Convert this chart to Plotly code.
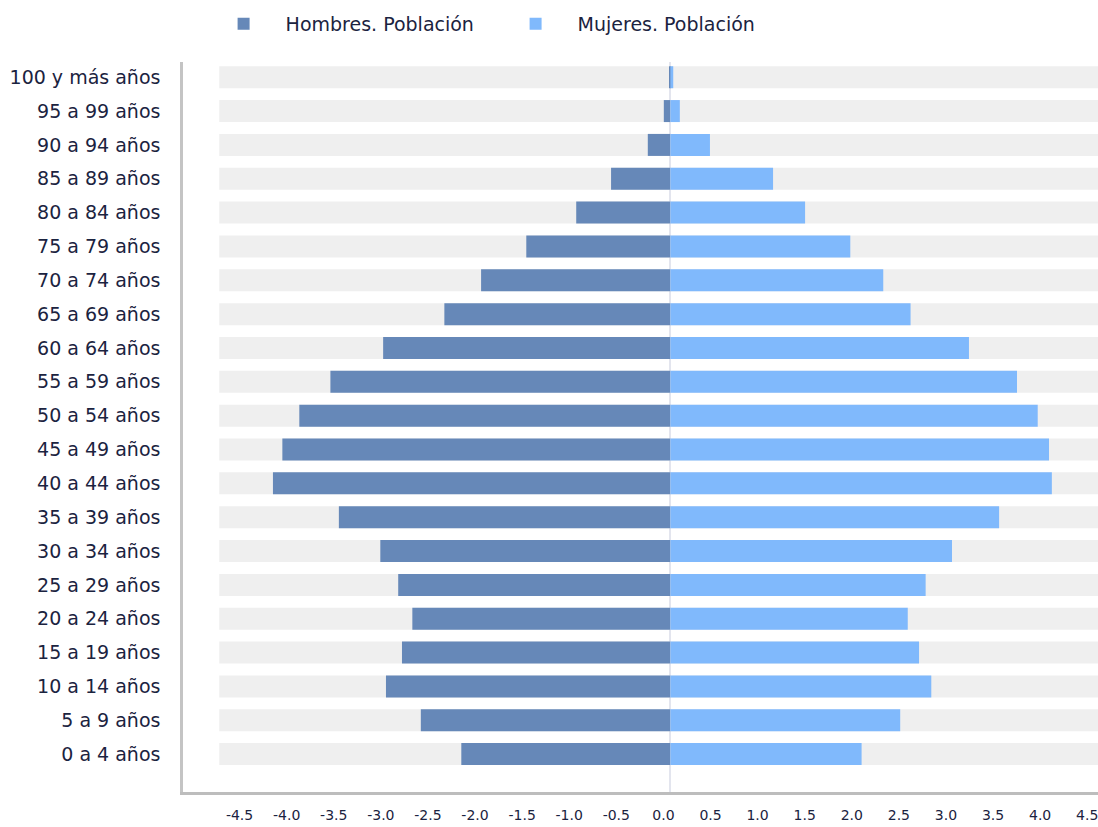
import plotly.graph_objects as go

# Age groups, bottom to top
grupos = ["0 a 4 años", "5 a 9 años", "10 a 14 años", "15 a 19 años", "20 a 24 años",
          "25 a 29 años", "30 a 34 años", "35 a 39 años", "40 a 44 años", "45 a 49 años",
          "50 a 54 años", "55 a 59 años", "60 a 64 años", "65 a 69 años", "70 a 74 años",
          "75 a 79 años", "80 a 84 años", "85 a 89 años", "90 a 94 años", "95 a 99 años",
          "100 y más años"]

# Population share (%)
hombres = [2.22, 2.65, 3.02, 2.85, 2.74, 2.89, 3.08, 3.52, 4.22, 4.12,
           3.94, 3.61, 3.05, 2.40, 2.01, 1.53, 1.00, 0.63, 0.24, 0.07, 0.01]
mujeres = [2.03, 2.44, 2.77, 2.64, 2.52, 2.71, 2.99, 3.49, 4.05, 4.02,
           3.90, 3.68, 3.17, 2.55, 2.26, 1.91, 1.43, 1.09, 0.42, 0.10, 0.03]

# Background band extent
fondo_izq = -4.79
fondo_der = 4.65

tick_vals = [-4.5, -4.0, -3.5, -3.0, -2.5, -2.0, -1.5, -1.0, -0.5, 0.0,
             0.5, 1.0, 1.5, 2.0, 2.5, 3.0, 3.5, 4.0, 4.5]
tick_text = [f"{v:.1f}" for v in tick_vals]

C_H = "#6688B8"
C_M = "#80B9FC"
C_BG = "#EFEFEF"
TXT = "#1B2340"
FONT = "DejaVu Sans"

fig = go.Figure()
fig.add_trace(go.Bar(y=grupos, x=[fondo_der - fondo_izq] * len(grupos),
                     base=[fondo_izq] * len(grupos), orientation="h",
                     marker=dict(color=C_BG, line=dict(width=0)), width=0.65,
                     showlegend=False, hoverinfo="skip"))
fig.add_trace(go.Bar(y=grupos, x=[-v for v in hombres], orientation="h",
                     name="Hombres. Población", marker=dict(color=C_H, line=dict(width=0)),
                     width=0.65, customdata=hombres,
                     hovertemplate="%{y}: %{customdata}<extra>Hombres</extra>"))
fig.add_trace(go.Bar(y=grupos, x=mujeres, orientation="h",
                     name="Mujeres. Población", marker=dict(color=C_M, line=dict(width=0)),
                     width=0.65,
                     hovertemplate="%{y}: %{x}<extra>Mujeres</extra>"))

fig.update_layout(
    width=1098, height=827,
    barmode="overlay",
    plot_bgcolor="white", paper_bgcolor="white",
    margin=dict(l=183, r=0, t=62, b=35),
    font=dict(family=FONT, color=TXT),
    legend=dict(orientation="h", xref="container", yref="container",
                x=0.1836, xanchor="left", y=1 - 24 / 827, yanchor="middle",
                font=dict(size=19, color=TXT), traceorder="normal",
                itemwidth=74, entrywidth=203),
    xaxis=dict(range=[-5.175, 4.54], tickvals=tick_vals, ticktext=tick_text,
               showgrid=False, zeroline=True, zerolinecolor="#E3E5EE", zerolinewidth=2,
               showline=True, linecolor="#BDBDBD", linewidth=2.5,
               ticks="outside", ticklen=8, tickcolor="rgba(0,0,0,0)",
               tickfont=dict(size=14, color=TXT), ticklabelshift=-7,
               ticklabeloverflow="allow",
               fixedrange=True, automargin=False),
    yaxis=dict(type="category", categoryorder="array", categoryarray=grupos,
               range=[-1.12, 20.45], showgrid=False, zeroline=False,
               showline=True, linecolor="#C4C4C4", linewidth=2.5,
               ticks="outside", ticklen=16, tickcolor="rgba(0,0,0,0)",
               tickfont=dict(size=19, color=TXT), automargin=False),
)

fig.write_html("out.html", config={"displayModeBar": False},
               post_script="document.body.style.margin='0';")
